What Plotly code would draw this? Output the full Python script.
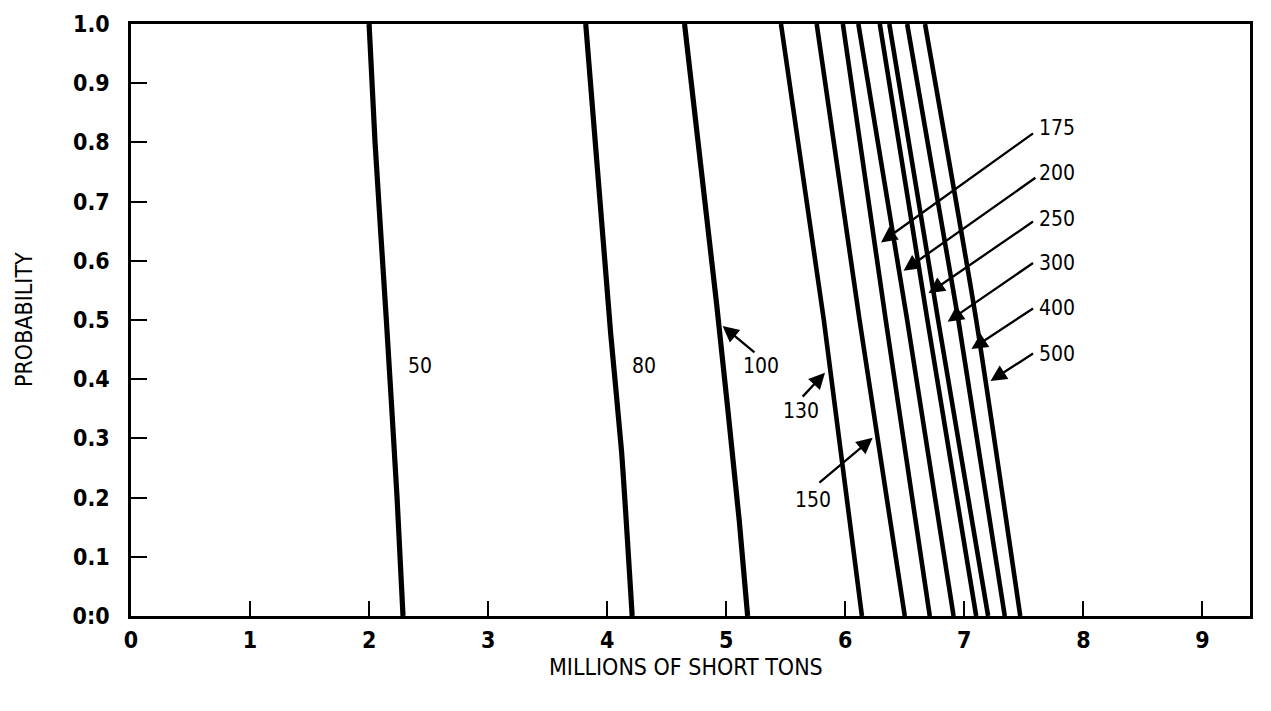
import plotly.graph_objects as go

# Probability curves: x = millions of short tons, y = probability
line_labels = ["50", "80", "100", "130", "150", "175", "200", "250", "300", "400", "500"]

prob_50 = [1.0, 0.8, 0.5, 0.2, 0.0]
tons_50 = [2.0, 2.05, 2.145, 2.235, 2.285]

prob_80 = [1.0, 0.476, 0.28, 0.0]
tons_80 = [3.82, 4.03, 4.12, 4.21]

prob_100 = [1.0, 0.526, 0.16, 0.0]
tons_100 = [4.65, 4.92, 5.11, 5.18]

prob_cluster = [1.0, 0.5, 0.0]
tons_130 = [5.46, 5.82, 6.14]
tons_150 = [5.76, 6.12, 6.50]
tons_175 = [5.98, 6.34, 6.71]
tons_200 = [6.11, 6.52, 6.91]
tons_250 = [6.29, 6.69, 7.10]
tons_300 = [6.37, 6.78, 7.20]
tons_400 = [6.52, 6.95, 7.34]
tons_500 = [6.67, 7.10, 7.47]

x_tick_vals = [0, 1, 2, 3, 4, 5, 6, 7, 8, 9]
x_tick_text = ["0", "1", "2", "3", "4", "5", "6", "7", "8", "9"]
y_tick_vals = [0.0, 0.1, 0.2, 0.3, 0.4, 0.5, 0.6, 0.7, 0.8, 0.9, 1.0]
y_tick_text = ["0:0", "0.1", "0.2", "0.3", "0.4", "0.5", "0.6", "0.7", "0.8", "0.9", "1.0"]

series = [
    (tons_50, prob_50, 5.2),
    (tons_80, prob_80, 5.2),
    (tons_100, prob_100, 5.2),
    (tons_130, prob_cluster, 4.6),
    (tons_150, prob_cluster, 4.6),
    (tons_175, prob_cluster, 4.6),
    (tons_200, prob_cluster, 4.6),
    (tons_250, prob_cluster, 4.6),
    (tons_300, prob_cluster, 4.6),
    (tons_400, prob_cluster, 4.6),
    (tons_500, prob_cluster, 4.6),
]

FONT = "DejaVu Sans Condensed, DejaVu Sans, sans-serif"

fig = go.Figure()
for (xs, ys, w), name in zip(series, line_labels):
    fig.add_trace(go.Scatter(
        x=xs, y=ys, mode="lines", name=name,
        line=dict(color="black", width=w, shape="spline", smoothing=0.6),
        hoverinfo="skip", showlegend=False,
    ))

# Plain labels beside the left curves
plain_labels = [("50", 2.43, 0.423), ("80", 4.31, 0.423)]
# Labels with leader arrows: (text, text x, text y, tail x, tail y, tip x, tip y)
arrow_labels = [
    ("100", 5.29, 0.423, 5.25, 0.443, 4.97, 0.490),
    ("130", 5.63, 0.346, 5.63, 0.368, 5.83, 0.411),
    ("150", 5.73, 0.196, 5.77, 0.223, 6.23, 0.301),
    ("175", 7.78, 0.824, 7.59, 0.817, 6.30, 0.631),
    ("200", 7.78, 0.748, 7.61, 0.742, 6.49, 0.583),
    ("250", 7.78, 0.671, 7.59, 0.668, 6.70, 0.545),
    ("300", 7.78, 0.596, 7.59, 0.598, 6.86, 0.497),
    ("400", 7.78, 0.521, 7.59, 0.521, 7.06, 0.451),
    ("500", 7.78, 0.443, 7.59, 0.445, 7.22, 0.397),
]

label_font = dict(family=FONT, size=21, color="black")
for txt, tx, ty in plain_labels:
    fig.add_annotation(x=tx, y=ty, text=txt, showarrow=False, font=label_font,
                       xanchor="center", yanchor="middle")
for txt, tx, ty, ax, ay, hx, hy in arrow_labels:
    fig.add_annotation(x=tx, y=ty, text=txt, showarrow=False, font=label_font,
                       xanchor="center", yanchor="middle")
    fig.add_annotation(
        x=hx, y=hy, ax=ax, ay=ay, xref="x", yref="y", axref="x", ayref="y",
        text="", showarrow=True, arrowhead=2, arrowsize=1.4, arrowwidth=2.3,
        arrowcolor="black", standoff=0, startstandoff=0,
    )

# Axis titles (pixel positions converted to paper fractions of the plot area)
PLOT_L, PLOT_R, PLOT_T, PLOT_B = 131, 1250, 11, 616
fig.add_annotation(
    x=(686 - PLOT_L) / (PLOT_R - PLOT_L), y=-(668 - PLOT_B) / (PLOT_B - PLOT_T),
    xref="paper", yref="paper", text="MILLIONS OF SHORT TONS",
    xanchor="center", yanchor="middle",
    showarrow=False, font=dict(family=FONT, size=23, color="black"),
)
fig.add_annotation(
    x=-(PLOT_L - 24) / (PLOT_R - PLOT_L), y=0.5, xref="paper", yref="paper",
    text="PROBABILITY", textangle=-90, xanchor="center", yanchor="middle",
    showarrow=False, font=dict(family=FONT, size=23, color="black"),
)

axis_common = dict(
    showline=True, linecolor="black", linewidth=2.5, mirror=True,
    showgrid=False, zeroline=False, ticks="inside", tickcolor="black", tickwidth=2,
    tickfont=dict(family=FONT, size=23, color="black", weight="bold"),
)

fig.update_xaxes(
    range=[0, 9.4], tickmode="array", tickvals=x_tick_vals, ticktext=x_tick_text,
    ticklen=15, ticklabelstandoff=2, **axis_common,
)
fig.update_yaxes(
    range=[0, 1.0], tickmode="array", tickvals=y_tick_vals, ticktext=y_tick_text,
    ticklen=16, ticklabelstandoff=14, **axis_common,
)

fig.update_layout(
    width=1271, height=711,
    margin=dict(l=PLOT_L, r=1271 - PLOT_R, t=PLOT_T, b=711 - PLOT_B),
    paper_bgcolor="white", plot_bgcolor="white",
)

fig.write_html("out.html")
